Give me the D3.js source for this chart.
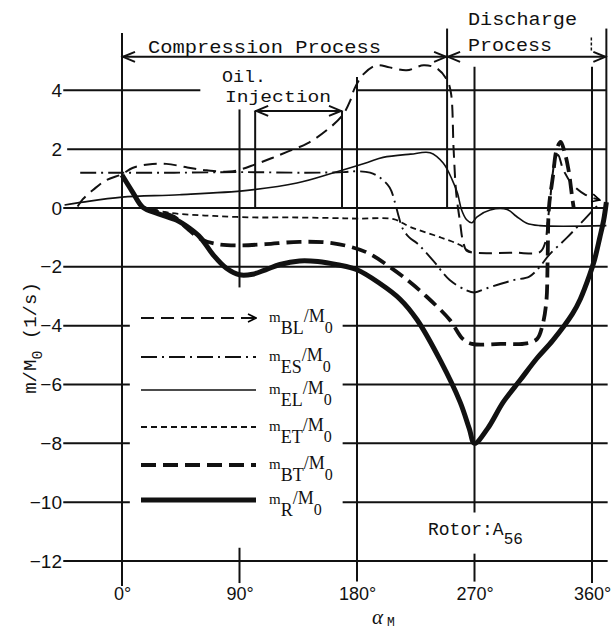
<!DOCTYPE html>
<html><head><meta charset="utf-8">
<script src="https://cdn.jsdelivr.net/npm/d3@7"></script>
<style>html,body{margin:0;padding:0;background:#fff;}svg{display:block;}</style>
</head><body>
<svg id="chart" width="614" height="630"></svg>
<script>
// ---- data ----
const yTicks = [4, 2, 0, -2, -4, -6, -8, -10, -12];
const xTicks = [0, 90, 180, 270, 360];

// mass-flow ratios m/M0 (1/s) against rotor angle alpha_M (deg)
const mBL = [[-34,0.05],[-30,0.3],[-22,0.62],[-12,0.95],[0,1.15],[8,1.36],[20,1.48],[34,1.5],[50,1.38],[65,1.28],[85,1.25],[103,1.5],[115,1.7],[126,1.9],[142,2.2],[157,2.65],[169,3.16],[175,3.67],[178,4.05],[185,4.55],[195,4.85],[205,4.78],[218,4.68],[231,4.85],[241,4.75],[249,4.35],[252,3.9],[254,2.0],[256,0.5],[259,-0.5],[261,-1.1],[264,-1.45],[270,-1.52],[300,-1.52],[320,-1.5],[324,-1.2],[326,-0.5],[328,0.3],[330,1.2],[332,1.7],[334,1.8],[338,1.3],[345,0.8],[355,0.45],[366,0.27]];
const mES = [[-32,1.2],[0,1.2],[40,1.2],[90,1.22],[140,1.2],[170,1.22],[180,1.25],[190,1.2],[197,1.05],[205,0.7],[209,0.2],[212,-0.3],[215,-0.7],[220,-1.0],[226,-1.2],[238,-1.77],[251,-2.45],[264,-2.8],[270,-2.87],[280,-2.72],[300,-2.45],[312,-2.33],[320,-2.0],[327,-1.6],[341,-1.0],[356,-0.3],[366,0.17]];
const mEL = [[-44,0.1],[-30,0.2],[0,0.37],[44,0.45],[96,0.6],[134,0.85],[162,1.2],[188,1.55],[200,1.72],[221,1.83],[236,1.88],[246,1.53],[253,0.95],[257,0.5],[260,-0.05],[264,-0.4],[268,-0.5],[272,-0.3],[282,-0.07],[295,-0.05],[302,-0.28],[310,-0.52],[320,-0.6],[371,-0.6]];
const mET = [[16,0],[30,-0.12],[44,-0.2],[70,-0.27],[100,-0.32],[129,-0.32],[160,-0.34],[180,-0.36],[208,-0.38],[221,-0.65],[244,-1.0],[259,-1.26],[265,-1.45],[268,-1.5]];
const mBT = [[16,0],[28,-0.12],[40,-0.3],[50,-0.7],[60,-1.05],[72,-1.22],[90,-1.27],[110,-1.23],[136,-1.15],[162,-1.2],[187,-1.5],[205,-2.0],[220,-2.5],[233,-3.0],[251,-3.8],[261,-4.45],[268,-4.62],[290,-4.62],[310,-4.6],[318,-4.45],[322,-4.0],[325,-3.2],[326,-1.8],[327,0],[330,1.05],[333,2.0],[336,2.25],[339,1.9],[342,1.3],[345,0.3],[346,0]];
const mR = [[0,1.12],[8,0.55],[16,0.02],[28,-0.2],[42,-0.42],[52,-0.7],[60,-1.0],[70,-1.6],[80,-2.05],[90,-2.27],[100,-2.25],[110,-2.1],[121,-1.92],[136,-1.8],[150,-1.82],[165,-1.93],[180,-2.1],[197,-2.55],[213,-3.1],[226,-3.8],[244,-5.2],[259,-6.6],[266,-7.5],[270,-8.0],[280,-7.5],[292,-6.6],[305,-5.85],[318,-5.1],[330,-4.5],[345,-3.6],[351,-3.1],[358,-2.3],[362,-1.75],[366,-1.0],[369,-0.4],[371,0.2]];

const seriesKeys = ["BL","ES","EL","ET","BT","R"];
const seriesData = {BL: mBL, ES: mES, EL: mEL, ET: mET, BT: mBT, R: mR};

// ---- styles ----
const styles = {
  BL: {w: 2.0, dash: "13,7", arrow: true},
  ES: {w: 1.9, dash: "16,5,2,5"},
  EL: {w: 1.6, dash: null},
  ET: {w: 1.8, dash: "6,4"},
  BT: {w: 3.8, dash: "15,7"},
  R:  {w: 5.0, dash: null}
};

const svg = d3.select("#chart");
const x = d3.scaleLinear().domain([0, 360]).range([122, 592]);
const y = d3.scaleLinear().domain([0, -12]).range([208, 561]);

const defs = svg.append("defs");
defs.append("marker").attr("id","arrowEnd").attr("viewBox","0 0 10 10")
  .attr("refX",9).attr("refY",5).attr("markerWidth",5).attr("markerHeight",5)
  .attr("orient","auto").attr("markerUnits","strokeWidth")
  .append("path").attr("d","M1,1 L9,5 L1,9").attr("fill","none").attr("stroke","#000").attr("stroke-width",1.6);

const ink = "#111";
const g = svg.append("g");

// horizontal reference lines: [value, from deg, to deg]
const hSegs = [];
hSegs.push([4,-45,60],[4,180,371.5]);
hSegs.push([2,-42,371.5],[0,-45,372],[-2,-45,372],[-12,-45,372]);
[-4,-6,-8,-10].forEach(v => { hSegs.push([v,-45,6],[v,169,372]); });
g.selectAll("line.h").data(hSegs).join("line").attr("class","h")
  .attr("x1",d=>x(d[1])).attr("x2",d=>x(d[2])).attr("y1",d=>y(d[0])).attr("y2",d=>y(d[0]))
  .attr("stroke",ink).attr("stroke-width",2);

// vertical reference lines: [deg, top value, bottom value]
const vSegs = [[0,5.95,-12.85],[90,3.35,-2.7],[90,-11.55,-12.75],[180,4.45,-12.7],
  [249,6.1,0],[270,4.8,-10.35],[270,-11.75,-12.7],[360,4.8,-12.75],[371,6.1,0.1],
  [102,3.3,0],[168.5,3.3,0]];
g.selectAll("line.v").data(vSegs).join("line").attr("class","v")
  .attr("x1",d=>x(d[0])).attr("x2",d=>x(d[0])).attr("y1",d=>y(d[1])).attr("y2",d=>y(d[2]))
  .attr("stroke",ink).attr("stroke-width",2);
// short dashed mark near the end of the discharge span
g.append("line").attr("x1",x(359.5)).attr("x2",x(359.5)).attr("y1",y(5.8)).attr("y2",y(5.3))
  .attr("stroke",ink).attr("stroke-width",1.5).attr("stroke-dasharray","3,2");

// process span arrows
function spanArrow(d0, d1, v) {
  const yy = y(v), xa = x(d0), xb = x(d1);
  g.append("line").attr("x1",xa).attr("x2",xb).attr("y1",yy).attr("y2",yy).attr("stroke",ink).attr("stroke-width",2);
  g.append("path").attr("d",`M${xa+13},${yy-5} L${xa+1},${yy} L${xa+13},${yy+5}`).attr("fill","none").attr("stroke",ink).attr("stroke-width",2);
  g.append("path").attr("d",`M${xb-13},${yy-5} L${xb-1},${yy} L${xb-13},${yy+5}`).attr("fill","none").attr("stroke",ink).attr("stroke-width",2);
}
spanArrow(0, 249, 5.14);
spanArrow(249, 371, 5.14);
spanArrow(102, 168.5, 3.3);

// curves
const line = d3.line().x(d=>x(d[0])).y(d=>y(d[1])).curve(d3.curveCatmullRom.alpha(0.5));
seriesKeys.forEach(k => {
  const s = styles[k];
  const p = g.append("path").datum(seriesData[k]).attr("d", line)
    .attr("fill","none").attr("stroke",ink).attr("stroke-width",s.w)
    .attr("stroke-linejoin","round").attr("stroke-linecap","butt");
  if (s.dash) p.attr("stroke-dasharray", s.dash);
  if (s.arrow) p.attr("marker-end","url(#arrowEnd)");
});

// axes (labels only)
const yAxis = d3.axisLeft(y).tickValues(yTicks).tickSize(0).tickPadding(0);
const ya = svg.append("g").attr("transform","translate(62,0)").call(yAxis);
ya.select(".domain").remove();
ya.selectAll("text").attr("font-family","'Liberation Sans', Arial, sans-serif").attr("font-size",19).attr("fill",ink);

const xAxis = d3.axisBottom(x).tickValues(xTicks).tickFormat(d => d + "°").tickSize(0).tickPadding(0);
const xa = svg.append("g").attr("transform","translate(0,587)").call(xAxis);
xa.select(".domain").remove();
xa.selectAll("text").attr("font-family","'Liberation Sans', Arial, sans-serif").attr("font-size",18).attr("fill",ink);

// axis titles
const mono = "'Liberation Mono', 'DejaVu Sans Mono', monospace";
const xt = svg.append("text").attr("x",372).attr("y",624).attr("fill",ink)
  .attr("font-family","'Liberation Serif', serif");
xt.append("tspan").attr("font-size",21).attr("font-style","italic").text("α");
xt.append("tspan").attr("font-size",13).attr("dx",4).attr("dy",2).attr("font-family",mono).text("M");

const yt = svg.append("text").attr("transform","translate(36,338) rotate(-90)")
  .attr("text-anchor","middle").attr("font-family",mono).attr("font-size",19).attr("fill",ink);
yt.append("tspan").text("m/M");
yt.append("tspan").attr("dy",6).attr("font-size",15).text("0");
yt.append("tspan").attr("dy",-6).text(" (1/s)");

// annotations
function monoText(t, x0, y0, len, fs) {
  svg.append("text").attr("x",x0).attr("y",y0).attr("font-family",mono).attr("font-size",fs || 19)
    .attr("fill",ink).attr("textLength",len).attr("lengthAdjust","spacingAndGlyphs").text(t);
}
monoText("Compression Process", 148, 53, 233);
monoText("Discharge", 468, 25, 109);
monoText("Process", 468, 51, 84);
monoText("Oil.", 222, 82, 44, 17);
monoText("Injection", 225, 102, 106, 17);

const rt = svg.append("text").attr("x",428).attr("y",535).attr("font-family",mono)
  .attr("font-size",18).attr("fill",ink);
rt.append("tspan").text("Rotor:A");
rt.append("tspan").attr("dy",9).attr("font-size",16).text("56");

// legend
const legendRows = [318, 357, 390, 427, 465, 500];
seriesKeys.forEach((k, i) => {
  const s = styles[k], yy = legendRows[i];
  const p = svg.append("line").attr("x1",141).attr("x2",256).attr("y1",yy).attr("y2",yy)
    .attr("stroke",ink).attr("stroke-width",s.w);
  if (s.dash) p.attr("stroke-dasharray", s.dash);
  if (s.arrow) p.attr("marker-end","url(#arrowEnd)");
  const t = svg.append("text").attr("x",269).attr("y",yy+4)
    .attr("font-family","'Liberation Serif', serif").attr("font-size",17).attr("fill",ink);
  t.append("tspan").attr("font-size",15).text("m");
  t.append("tspan").attr("dy",12).attr("font-size",18).text(k);
  t.append("tspan").attr("dy",-12).attr("font-size",18).text("/M");
  t.append("tspan").attr("dy",11).attr("font-size",16).text("0");
});
</script>
</body></html>
